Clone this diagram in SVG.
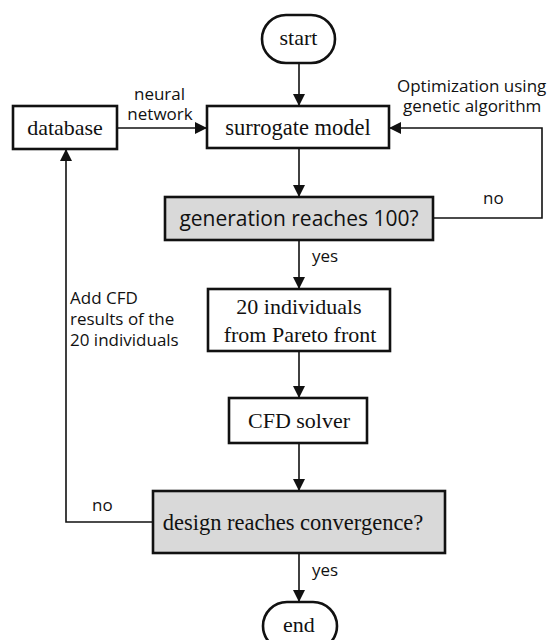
<svg xmlns="http://www.w3.org/2000/svg" width="548" height="640" viewBox="0 0 548 640">
<style>
.box{fill:#fff;stroke:#111;stroke-width:2.6}
.dec{fill:#d9d9d9;stroke:#111;stroke-width:2.6}
.serif{font-family:"Liberation Serif","Times New Roman",serif;font-size:22px;fill:#111;text-anchor:middle}
.sans{font-family:"Open Sans","Noto Sans","DejaVu Sans",sans-serif;font-size:17px;fill:#111}
.big{font-family:"Open Sans","Noto Sans","DejaVu Sans",sans-serif;font-size:21px;fill:#111;text-anchor:middle}
.line{fill:none;stroke:#111;stroke-width:1.6}
</style>
<defs>
<marker id="arrL" viewBox="0 0 10 10" refX="10" refY="5" markerWidth="12" markerHeight="12" markerUnits="userSpaceOnUse" orient="auto">
<path d="M0,0 L10,5 L0,10 z" fill="#111"/>
</marker>
</defs>
<rect width="548" height="640" fill="#fff"/>
<g id="connectors">
<path class="line" d="M299,63 V106" marker-end="url(#arrL)"/>
<path class="line" d="M117,128 H207" marker-end="url(#arrL)"/>
<path class="line" d="M299,148 V197" marker-end="url(#arrL)"/>
<path class="line" d="M433,218 H542 V128 H389" marker-end="url(#arrL)"/>
<path class="line" d="M299,240 V289" marker-end="url(#arrL)"/>
<path class="line" d="M299,351 V398" marker-end="url(#arrL)"/>
<path class="line" d="M299,443 V491" marker-end="url(#arrL)"/>
<path class="line" d="M153,522 H66 V149" marker-end="url(#arrL)"/>
<path class="line" d="M299,553 V602" marker-end="url(#arrL)"/>
<text class="sans" x="159.5" y="100" text-anchor="middle">neural</text>
<text class="sans" x="160" y="120" text-anchor="middle">network</text>
<text class="sans" x="397" y="92">Optimization using</text>
<text class="sans" x="403" y="112">genetic algorithm</text>
<text class="sans" x="483" y="204">no</text>
<text class="sans" x="312" y="262">yes</text>
<text class="sans" x="70" y="304">Add CFD</text>
<text class="sans" x="70" y="325">results of the</text>
<text class="sans" x="70" y="346">20 individuals</text>
<text class="sans" x="92" y="511">no</text>
<text class="sans" x="312" y="576">yes</text>
</g>
<g id="start">
<rect class="box" x="262" y="15" width="73" height="48" rx="24"/>
<text class="serif" x="298.5" y="45">start</text>
</g>
<g id="database">
<rect class="box" x="13" y="106" width="104" height="43"/>
<text class="serif" x="65" y="135">database</text>
</g>
<g id="surrogate">
<rect class="box" x="207" y="106" width="182" height="42"/>
<text class="serif" x="298" y="135" style="font-size:22.5px">surrogate model</text>
</g>
<g id="generation">
<rect class="dec" x="165" y="197" width="268" height="43"/>
<text class="big" x="299" y="226">generation reaches 100?</text>
</g>
<g id="pareto">
<rect class="box" x="208" y="289" width="182" height="62"/>
<text class="serif" x="299" y="314">20 individuals</text>
<text class="serif" x="300" y="342">from Pareto front</text>
</g>
<g id="cfd">
<rect class="box" x="229" y="398" width="138" height="45"/>
<text class="serif" x="299" y="428">CFD solver</text>
</g>
<g id="convergence">
<rect class="dec" x="153" y="491" width="292" height="62"/>
<text class="serif" x="293" y="530" style="font-size:22.5px">design reaches convergence?</text>
</g>
<g id="end">
<rect class="box" x="263" y="602" width="74" height="48" rx="24"/>
<text class="serif" x="299" y="632">end</text>
</g>
</svg>
